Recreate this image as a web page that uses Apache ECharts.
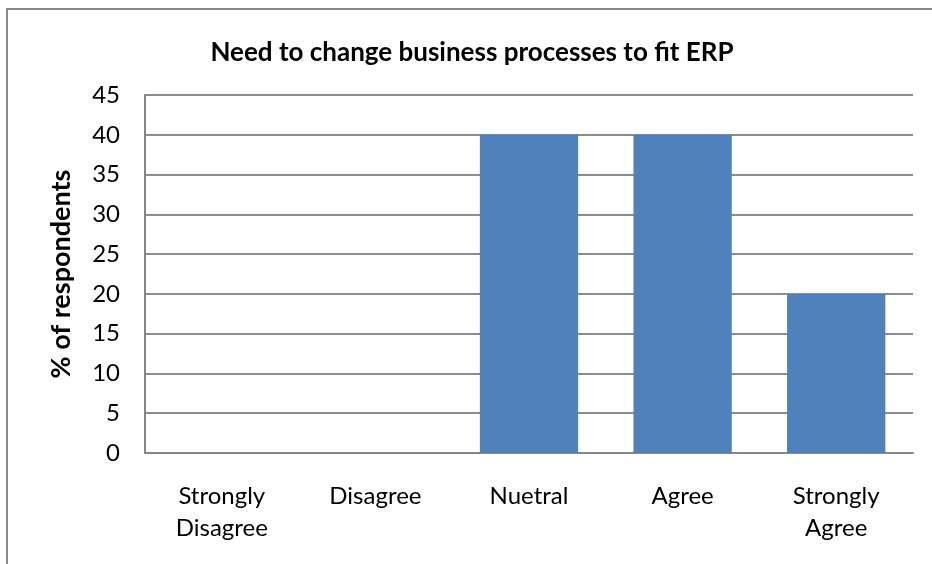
<!DOCTYPE html>
<html>
<head>
<meta charset="utf-8">
<script src="https://cdn.jsdelivr.net/npm/echarts@6/dist/echarts.min.js"></script>
<style>
  html, body { margin: 0; padding: 0; background: #fff; }
  #chart { width: 932px; height: 564px; }
</style>
</head>
<body>
<div id="chart"></div>
<script>
// Survey responses: share of respondents per answer
const categories = ['Strongly\nDisagree', 'Disagree', 'Nuetral', 'Agree', 'Strongly\nAgree'];
const percentValues = [0, 0, 40, 40, 20];
const yTicks = { min: 0, max: 45, interval: 5 };

const FONT = 'Lato, "Open Sans", sans-serif';
const chart = echarts.init(document.getElementById('chart'), null, { renderer: 'canvas' });

chart.setOption({
  animation: false,
  backgroundColor: '#ffffff',
  title: {
    text: 'Need to change business processes to fit ERP',
    left: 467,
    top: 35,
    textAlign: 'center',
    textStyle: { fontFamily: FONT, fontSize: 26, fontWeight: 'bold', color: '#000' }
  },
  grid: { left: 145, right: 19, top: 95, bottom: 111 },
  xAxis: {
    type: 'category',
    data: categories,
    axisLine: { lineStyle: { color: '#868686', width: 2 } },
    axisTick: { show: false },
    axisLabel: {
      interval: 0,
      margin: 27,
      fontFamily: FONT, fontSize: 24, color: '#000', lineHeight: 32
    }
  },
  yAxis: {
    type: 'value',
    min: yTicks.min, max: yTicks.max, interval: yTicks.interval,
    name: '% of respondents',
    nameLocation: 'middle',
    nameGap: 70,
    nameTextStyle: { fontFamily: FONT, fontSize: 27, fontWeight: 'bold', color: '#000' },
    axisLine: { show: true, lineStyle: { color: '#868686', width: 2 } },
    axisTick: { show: false },
    axisLabel: { margin: 25, fontFamily: FONT, fontSize: 24, color: '#000' },
    splitLine: { lineStyle: { color: '#8c8c8c', width: 2 } }
  },
  series: [{
    type: 'bar',
    data: percentValues,
    barWidth: '64%',
    itemStyle: { color: '#4f81bd' }
  }],
  graphic: [
    // outer frame, top and left edges
    { type: 'line', shape: { x1: 7, y1: 9, x2: 932, y2: 9 }, style: { stroke: '#888', lineWidth: 2 } },
    { type: 'line', shape: { x1: 7, y1: 8, x2: 7, y2: 564 }, style: { stroke: '#888', lineWidth: 2 } }
  ]
});
</script>
</body>
</html>
